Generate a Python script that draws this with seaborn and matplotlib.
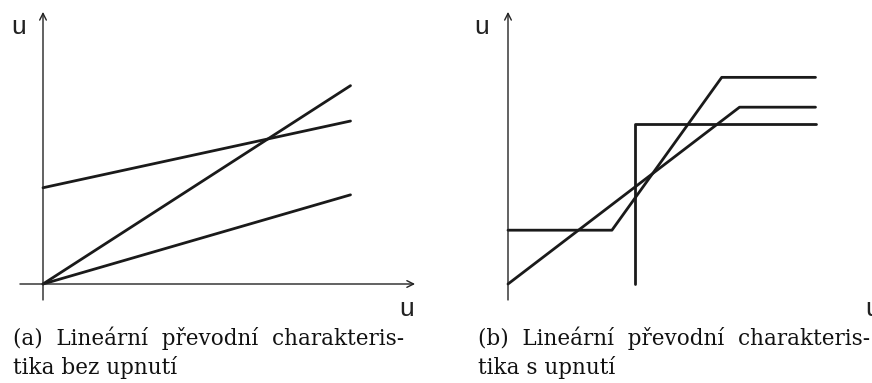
import matplotlib
matplotlib.use("Agg")
import matplotlib.pyplot as plt
import seaborn as sns

sns.set_theme(style="white")

# (a) linearni charakteristiky bez upnuti: x, y body
a_strma_x = [0, 10]
a_strma_y = [0, 6.45]
a_plocha_x = [0, 10]
a_plocha_y = [0, 2.9]
a_posun_x = [0, 10]
a_posun_y = [3.13, 5.3]

# (b) charakteristiky s upnutim
b_sat1_x = [0, 3.38, 6.95, 10]
b_sat1_y = [1.75, 1.75, 6.72, 6.72]
b_sat2_x = [0, 7.53, 10]
b_sat2_y = [0, 5.75, 5.75]
b_skok_x = [4.12, 4.12, 10]
b_skok_y = [0, 5.2, 5.2]

popisky = [["(a)  Lineární  převodní  charakteris-", "tika bez upnutí"],
           ["(b)  Lineární  převodní  charakteris-", "tika s upnutí"]]

W, H = 872, 383
S = 30.75  # px na jednotku


def osy_v_px(fig, x0, x1, y0, y1, ox, oy):
    # osa pokryva pixely [x0,x1] x [y0,y1], pocatek v (ox, oy)
    ax = fig.add_axes([x0 / W, (H - y1) / H, (x1 - x0) / W, (y1 - y0) / H])
    ax.set_xlim((x0 - ox) / S, (x1 - ox) / S)
    ax.set_ylim((oy - y1) / S, (oy - y0) / S)
    ax.axis("off")
    return ax


def sipky(ax, xmin, xmax, ymin, ymax):
    ap = dict(arrowstyle="->", color="#222222", lw=1.0, shrinkA=0, shrinkB=0,
              mutation_scale=12)
    ax.annotate("", xy=(xmax, 0), xytext=(xmin, 0), arrowprops=ap)
    ax.annotate("", xy=(0, ymax), xytext=(0, ymin), arrowprops=ap)


fig = plt.figure(figsize=(W / 100, H / 100), dpi=100)
fig.patch.set_facecolor("white")

kw = dict(color="#1a1a1a", linewidth=2.0, sort=False, estimator=None)
ukw = dict(fontsize=19, family="Liberation Sans", ha="center", va="center", color="#222222")

# panel (a)
ax1 = osy_v_px(fig, 0, 440, 0, 320, 43, 284)
sipky(ax1, -0.75, 12.1, -0.52, 8.85)
for xs, ys in [(a_strma_x, a_strma_y), (a_plocha_x, a_plocha_y), (a_posun_x, a_posun_y)]:
    sns.lineplot(x=xs, y=ys, ax=ax1, **kw)
ax1.text(-0.8, 8.35, "u", **ukw)
ax1.text(11.83, -0.82, "u", **ukw)

# panel (b)
ax2 = osy_v_px(fig, 440, 872, 0, 320, 508, 284)
sipky(ax2, -0.75, 12.5, -0.52, 8.85)
for xs, ys in [(b_sat1_x, b_sat1_y), (b_sat2_x, b_sat2_y), (b_skok_x, b_skok_y)]:
    sns.lineplot(x=xs, y=ys, ax=ax2, **kw)
ax2.text(-0.85, 8.35, "u", **ukw)
ax2.text(11.85, -0.82, "u", **ukw)

for x0, radky in zip([13, 478], popisky):
    for yb, txt in zip([345.5, 374], radky):
        fig.text(x0 / W, (H - yb) / H, txt, fontsize=15.5, family="DejaVu Serif",
                 ha="left", va="baseline", color="#111111")

fig.savefig("out.png", dpi=100)
